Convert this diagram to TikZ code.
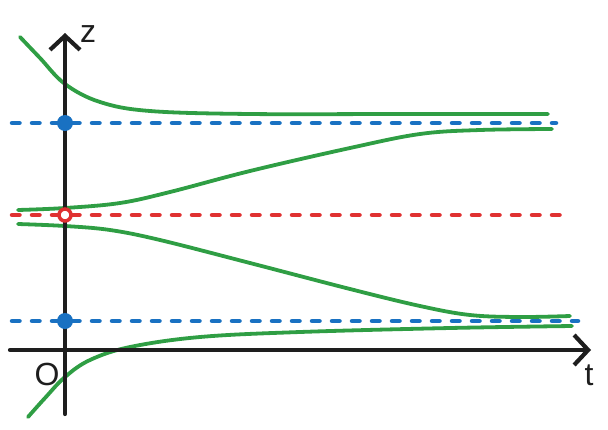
\documentclass[tikz,border=0pt]{standalone}
\usepackage{fontspec}
\setsansfont{Liberation Sans}
\usepackage{tikz}
\usetikzlibrary{arrows.meta}
\definecolor{ink}{RGB}{30,30,30}
\definecolor{sol}{RGB}{47,158,68}
\definecolor{stab}{RGB}{25,113,194}
\definecolor{unstab}{RGB}{224,49,49}

\tikzset{
    axis/.style={line width=4.2pt, ink, line cap=round, -{Straight Barb[length=14pt,width=30pt,line width=4.2pt]}},
    equil/.style={line width=4.5pt, line cap=round, dash pattern=on 7.5pt off 12.5pt},
    curve/.style={line width=3.8pt, sol, line cap=round},
    lbl/.style={font=\sffamily\fontsize{32}{34}\selectfont, ink}
}

\begin{document}
\begin{tikzpicture}[x=1pt, y=-1pt]
    \useasboundingbox (0,0) rectangle (608,429);

    \coordinate (O) at (65,350);
    \coordinate (Ztop) at (65,33);
    \coordinate (Zbot) at (65,414);
    \coordinate (Tleft) at (10,350);
    \coordinate (Tright) at (591,350);

    \coordinate (Ehi) at (65,123);
    \coordinate (Emid) at (65,215);
    \coordinate (Elo) at (65,321);

    % equilibria
    \draw[equil, stab] (12,123) -- (556,123);
    \draw[equil, unstab] (12,215) -- (566,215);
    \draw[equil, stab] (12,321) -- (578,321);

    % solution curves
    \draw[curve] plot[smooth, tension=0.6] coordinates {(20,37) (40,58) (65,84) (100,102) (150,111) (250,114) (400,114) (548,114)};
    \draw[curve] plot[smooth, tension=0.6] coordinates {(18,210) (65,208) (120,203) (170,192) (250,171) (350,148) (420,134) (480,130) (552,129)};
    \draw[curve] plot[smooth, tension=0.6] coordinates {(18,224) (65,226) (110,230) (160,240) (250,263) (350,289) (420,306) (470,315) (520,317) (570,316)};
    \draw[curve] plot[smooth, tension=0.6] coordinates {(28,417) (45,398) (65,377) (90,360) (130,347) (200,337) (300,332) (450,328) (572,326)};

    % axes
    \draw[axis] (Zbot) -- (Ztop);
    \draw[axis] (Tleft) -- (Tright);

    \node[lbl] (zlabel) at (88,34) {z};
    \node[lbl] (olabel) at (47,374) {O};
    \node[lbl] (tlabel) at (589,375) {t};

    % equilibrium points
    \fill[stab] (Ehi) circle (8pt);
    \fill[stab] (Elo) circle (8pt);
    \draw[unstab, line width=3.5pt, fill=white] (Emid) circle (6pt);
\end{tikzpicture}
\end{document}
